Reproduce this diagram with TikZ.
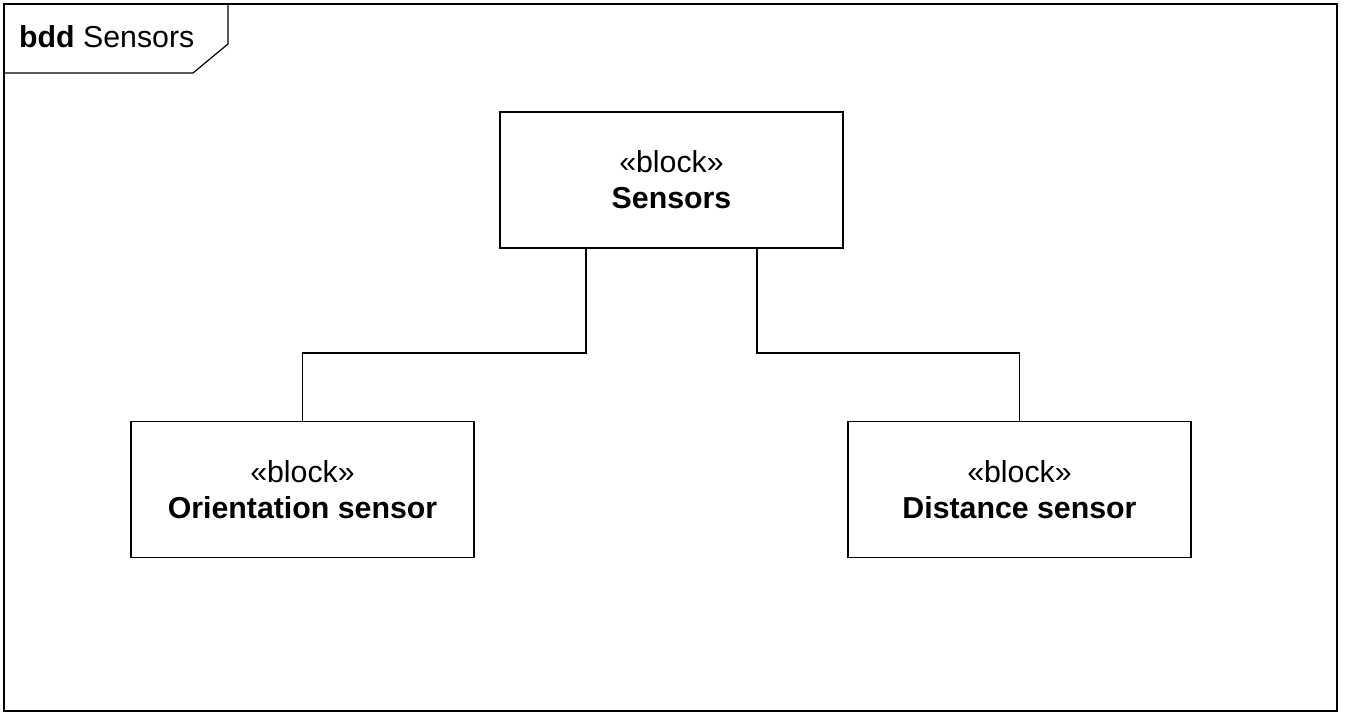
\documentclass[tikz,border=0pt]{standalone}
\usepackage{fontspec}
\setmainfont{Liberation Sans}
\begin{document}
\begin{tikzpicture}[x=1pt,y=-1pt,
  block/.style={draw,line width=1.1pt,minimum width=343pt,minimum height=136pt,inner sep=0pt,align=center,
    font=\fontsize{30.3}{36}\selectfont},
  conn/.style={line width=1.2pt},
  frame/.style={line width=1.2pt}]
\useasboundingbox (0,0) rectangle (1346,719);
\draw[frame] (4,4) rectangle (1337,711);
\draw[frame] (4,73) -- (193,73) -- (228,44) -- (228,4);
\node[anchor=west,inner sep=0pt,font=\fontsize{30.3}{36}\selectfont] (title) at (19,37) {\textbf{bdd} Sensors};
\node[block] (sensors) at (671.5,180) {«block»\\\textbf{Sensors}};
\node[block] (orient) at (302.5,489.5) {«block»\\\textbf{Orientation sensor}};
\node[block] (dist) at (1019.5,489.5) {«block»\\\textbf{Distance sensor}};
\coordinate (l1) at (586,353);
\coordinate (r1) at (757,353);
\draw[conn] (sensors.south -| l1) -- (l1) -| (orient.north);
\draw[conn] (sensors.south -| r1) -- (r1) -| (dist.north);
\end{tikzpicture}
\end{document}
